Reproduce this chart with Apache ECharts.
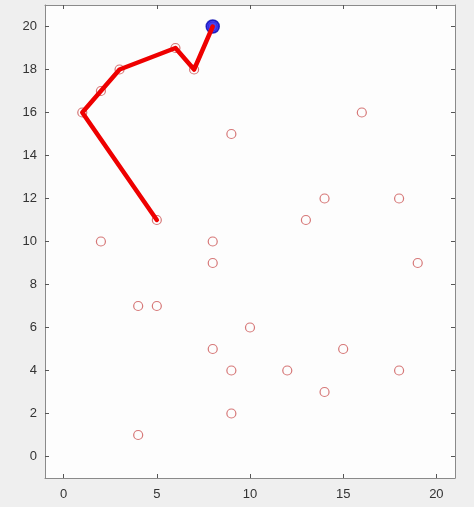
<!DOCTYPE html>
<html>
<head>
<meta charset="utf-8">
<script src="https://cdn.jsdelivr.net/npm/echarts@6/dist/echarts.min.js"></script>
<style>
  html, body { margin: 0; padding: 0; background: #efefef; }
  #chart { width: 474px; height: 507px; }
</style>
</head>
<body>
<div id="chart"></div>
<script>
// scattered points (red circles)
const pointsX = [1, 2, 3, 6, 7, 5, 9, 16, 13, 14, 18, 2, 8, 8, 19, 4, 5, 10, 8, 15, 9, 12, 18, 14, 9, 4, 8];
const pointsY = [16, 17, 18, 19, 18, 11, 15, 16, 11, 12, 12, 10, 10, 9, 9, 7, 7, 6, 5, 5, 4, 4, 4, 3, 2, 1, 20];
// path (thick red line)
const pathX = [5, 1, 2, 3, 6, 7, 8];
const pathY = [11, 16, 17, 18, 19, 18, 20];
// current position (blue)
const currentX = [8];
const currentY = [20];

const xTicks = [0, 5, 10, 15, 20];
const yTicks = [0, 2, 4, 6, 8, 10, 12, 14, 16, 18, 20];

const zip = (xs, ys) => xs.map((x, i) => [x, ys[i]]);

const chart = echarts.init(document.getElementById('chart'));

const axisBase = {
  type: 'value',
  min: -1,
  max: 21,
  splitLine: { show: false },
  axisLine: { onZero: false, lineStyle: { color: '#8a8a8a', width: 1 } },
  axisTick: { inside: true, length: 4, lineStyle: { color: '#555' } },
  axisLabel: { color: '#333', fontSize: 13, fontFamily: 'Arial, Liberation Sans, sans-serif' }
};

chart.setOption({
  animation: false,
  backgroundColor: '#efefef',
  grid: {
    left: 45, right: 19, top: 5, bottom: 29,
    show: true, backgroundColor: '#fdfdfd', borderWidth: 0
  },
  xAxis: [
    Object.assign({}, axisBase, {
      position: 'bottom',
      axisLabel: Object.assign({}, axisBase.axisLabel, { margin: 10, customValues: xTicks }),
      axisTick: Object.assign({}, axisBase.axisTick, { customValues: xTicks })
    }),
    Object.assign({}, axisBase, {
      position: 'top',
      axisLabel: { show: false },
      axisTick: Object.assign({}, axisBase.axisTick, { customValues: xTicks })
    })
  ],
  yAxis: [
    Object.assign({}, axisBase, {
      position: 'left',
      axisLabel: Object.assign({}, axisBase.axisLabel, { margin: 8, customValues: yTicks }),
      axisTick: Object.assign({}, axisBase.axisTick, { customValues: yTicks })
    }),
    Object.assign({}, axisBase, {
      position: 'right',
      axisLabel: { show: false },
      axisTick: Object.assign({}, axisBase.axisTick, { customValues: yTicks })
    })
  ],
  series: [
    {
      type: 'scatter',
      data: zip(pointsX, pointsY),
      symbol: 'circle',
      symbolSize: 9,
      itemStyle: { color: 'rgba(0,0,0,0)', borderColor: '#cc5555', borderWidth: 1.2 },
      z: 2
    },
    {
      type: 'scatter',
      data: zip(currentX, currentY),
      symbol: 'circle',
      symbolSize: 13,
      itemStyle: { color: '#1515f0', borderColor: '#0000b0', borderWidth: 1.5 },
      z: 3
    },
    {
      type: 'line',
      data: zip(pathX, pathY),
      showSymbol: false,
      lineStyle: { color: '#ee0000', width: 4.5, join: 'round', cap: 'round' },
      z: 4
    }
  ]
});
</script>
</body>
</html>
